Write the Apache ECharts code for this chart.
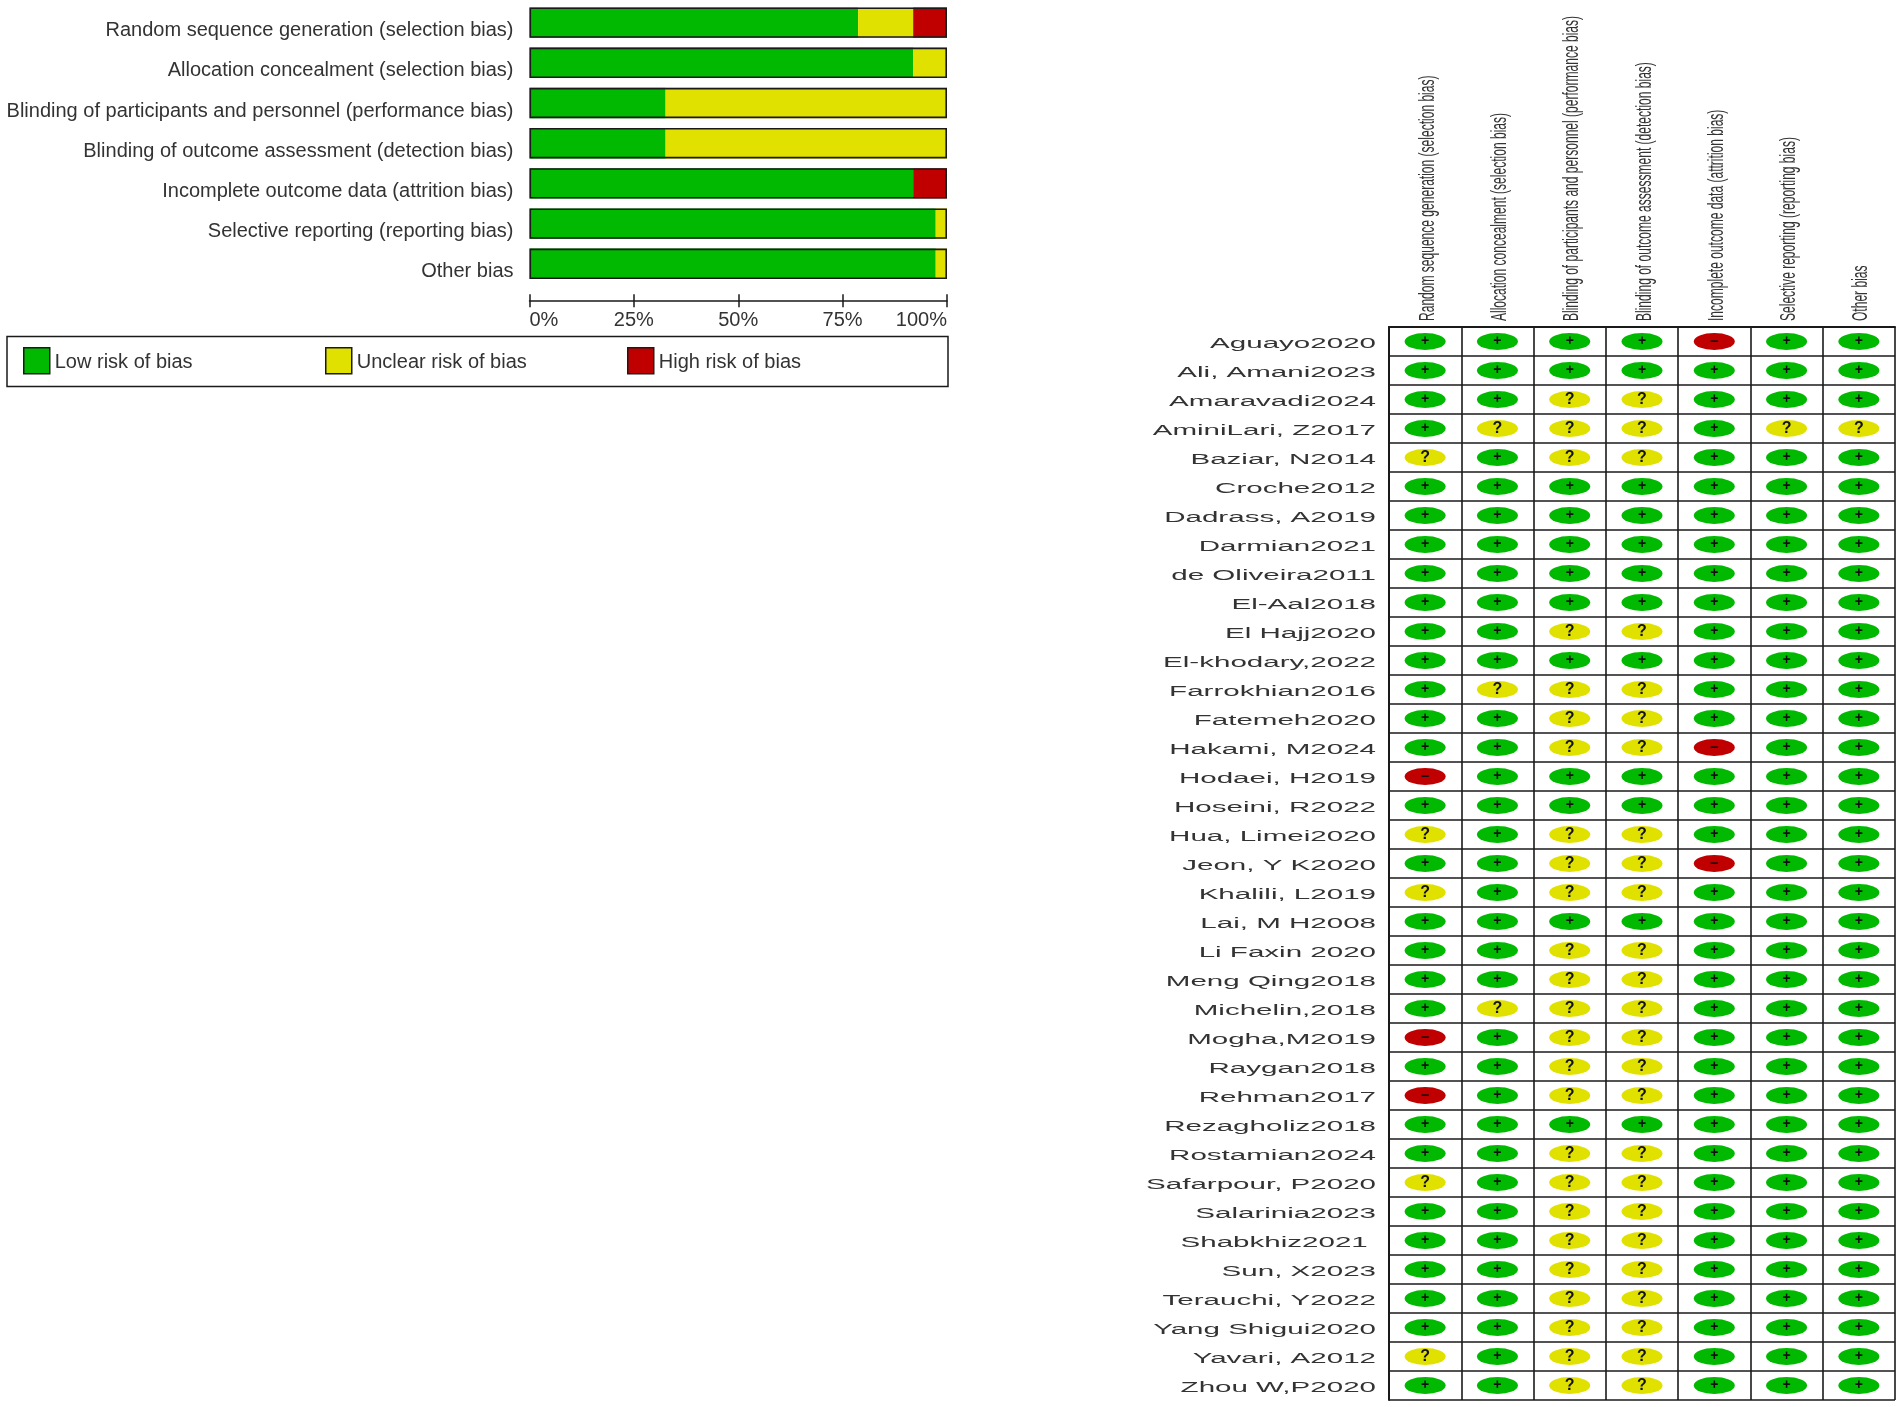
<!DOCTYPE html>
<html><head><meta charset="utf-8">
<style>html,body{margin:0;padding:0;background:#fff}#c{width:1902px;height:1407px}</style>
<script src="https://cdn.jsdelivr.net/npm/echarts@6/dist/echarts.min.js"></script>
</head><body><div id="c"></div>
<script>
const domains = [
  'Random sequence generation (selection bias)',
  'Allocation concealment (selection bias)',
  'Blinding of participants and personnel (performance bias)',
  'Blinding of outcome assessment (detection bias)',
  'Incomplete outcome data (attrition bias)',
  'Selective reporting (reporting bias)',
  'Other bias'
];
const lowPct     = [78.7, 91.9, 32.6, 32.6, 91.9, 97.3, 97.3];
const unclearPct = [13.2,  8.1, 67.4, 67.4,  0,    2.7,  2.7];
const highPct    = [ 8.1,  0,    0,    0,    8.1,  0,    0];
const fullBar    = [100, 100, 100, 100, 100, 100, 100];
const pctTicks   = ['0%', '25%', '50%', '75%', '100%'];
const studies = ['Aguayo2020','Ali, Amani2023','Amaravadi2024','AminiLari, Z2017','Baziar, N2014','Croche2012','Dadrass, A2019','Darmian2021','de Oliveira2011','El-Aal2018','El Hajj2020','El-khodary,2022','Farrokhian2016','Fatemeh2020','Hakami, M2024','Hodaei, H2019','Hoseini, R2022','Hua, Limei2020','Jeon, Y K2020','Khalili, L2019','Lai, M H2008','Li Faxin 2020','Meng Qing2018','Michelin,2018','Mogha,M2019','Raygan2018','Rehman2017','Rezagholiz2018','Rostamian2024','Safarpour, P2020','Salarinia2023','Shabkhiz2021 ','Sun, X2023','Terauchi, Y2022','Yang Shigui2020','Yavari, A2012','Zhou W,P2020'];
const judgements = ['++++-++','+++++++','++??+++','+???+??','?+??+++','+++++++','+++++++','+++++++','+++++++','+++++++','++??+++','+++++++','+???+++','++??+++','++??-++','-++++++','+++++++','?+??+++','++??-++','?+??+++','+++++++','++??+++','++??+++','+???+++','-+??+++','++??+++','-+??+++','+++++++','++??+++','?+??+++','++??+++','++??+++','++??+++','++??+++','++??+++','?+??+++','++??+++'];
const legendNames = ['Low risk of bias', 'Unclear risk of bias', 'High risk of bias'];

const GREEN = '#00B900', YELLOW = '#E1E100', RED = '#C00000', INK = '#333333', LINE = '#1a1a1a';
const FONT = '"Liberation Sans", Arial, sans-serif';

function marks(sym) {
  const out = [];
  judgements.forEach((r, row) => { [...r].forEach((c, col) => { if (c === sym) out.push([col, row]); }); });
  return out;
}
function markSeries(name, sym, shown, color, size) {
  return {
    name, type: 'scatter', xAxisIndex: 2, yAxisIndex: 1, data: marks(sym),
    symbol: 'circle', symbolSize: [41, 17], silent: true,
    itemStyle: { color, opacity: 1 },
    label: { show: true, position: 'inside', formatter: shown, color: '#111', fontFamily: FONT, fontWeight: 'bold', fontSize: size }
  };
}
function barSeries(name, data, color) {
  return { name, type: 'bar', stack: 'risk', xAxisIndex: 0, yAxisIndex: 0, data, barWidth: 30.4, itemStyle: { color } };
}
function legendAt(name, left) {
  return {
    left, top: 347, orient: 'horizontal', icon: 'rect', padding: 0, itemWidth: 26, itemHeight: 26,
    selectedMode: false,
    itemStyle: { borderColor: LINE, borderWidth: 1.5 },
    formatter: '{t|{name}}',
    textStyle: { fontFamily: FONT, fontSize: 20, color: INK,
      rich: { t: { fontFamily: FONT, fontSize: 20, color: INK, padding: [4, 0, 0, 0] } } },
    data: [name]
  };
}

const option = {
  backgroundColor: '#fff',
  animation: false,
  textStyle: { fontFamily: FONT },
  legend: [legendAt(legendNames[0], 23), legendAt(legendNames[1], 325), legendAt(legendNames[2], 627)],
  graphic: [{ type: 'rect', left: 4.5, top: 334, shape: { width: 941, height: 50 },
    style: { fill: 'none', stroke: LINE, lineWidth: 1.5 }, silent: true, z: -1 }],
  grid: [
    { left: 529.5, width: 417.5, top: 2.5, height: 281.4 },
    { left: 1389, width: 506, top: 327, height: 1073, show: false }
  ],
  xAxis: [
    { gridIndex: 0, type: 'value', min: 0, max: 100, interval: 25, position: 'bottom', offset: 16.8,
      splitLine: { show: false },
      axisLine: { show: true, lineStyle: { color: LINE, width: 1.5 } },
      axisTick: { show: true, length: 6.5, lineStyle: { color: LINE, width: 1.5 } },
      axisLabel: { show: true, margin: 10, fontSize: 20, color: INK, fontFamily: FONT, alignMinLabel: 'left', alignMaxLabel: 'right',
        formatter: v => pctTicks[v / 25] } },
    { gridIndex: 0, type: 'value', min: 0, max: 100, interval: 25, position: 'bottom', offset: 16.8,
      splitLine: { show: false },
      axisLine: { show: false },
      axisTick: { show: true, inside: true, length: 6.5, lineStyle: { color: LINE, width: 1.5 } },
      axisLabel: { show: false } },
    { gridIndex: 1, type: 'category', data: domains, position: 'top', boundaryGap: true,
      axisLine: { show: true, lineStyle: { color: LINE, width: 2 } },
      axisTick: { show: false }, axisLabel: { show: false },
      splitLine: { show: true, interval: 0, lineStyle: { color: LINE, width: 1.6 } } }
  ],
  yAxis: [
    { gridIndex: 0, type: 'category', data: domains, inverse: true,
      axisLine: { show: false }, axisTick: { show: false }, splitLine: { show: false },
      axisLabel: { show: true, margin: 16, fontSize: 20, lineHeight: 16, verticalAlign: 'top', color: INK, fontFamily: FONT, interval: 0 } },
    { gridIndex: 1, type: 'category', data: studies, inverse: true, boundaryGap: true,
      axisLine: { show: true, onZero: false, lineStyle: { color: LINE, width: 2 } },
      axisTick: { show: false }, axisLabel: { show: false },
      splitLine: { show: true, interval: 0, lineStyle: { color: LINE, width: 1.6 } } }
  ],
  series: [
    barSeries(legendNames[0], lowPct, GREEN),
    barSeries(legendNames[1], unclearPct, YELLOW),
    barSeries(legendNames[2], highPct, RED),
    { name: 'frame', type: 'bar', xAxisIndex: 0, yAxisIndex: 0, data: fullBar, barWidth: 30.4, barGap: '-100%', z: 5, silent: true,
      itemStyle: { color: 'rgba(0,0,0,0)', borderColor: LINE, borderWidth: 1.6 } },
    markSeries(legendNames[0], '+', '+', GREEN, 14),
    markSeries(legendNames[1], '?', '?', YELLOW, 16),
    markSeries(legendNames[2], '-', '−', RED, 15),
    { name: 'study labels', type: 'custom', xAxisIndex: 2, yAxisIndex: 1, silent: true, clip: false,
      data: studies.map((s, i) => [0, i]),
      renderItem(params, api) {
        const p = api.coord([0, api.value(1)]);
        const band = api.size([1, 1]);
        return { type: 'text', x: p[0] - band[0] / 2 - 13, y: p[1] + 2.5, scaleX: 2.11,
          style: { text: studies[params.dataIndex], align: 'right', verticalAlign: 'middle', fill: INK, fontSize: 14, fontFamily: FONT } };
      } },
    { name: 'domain labels', type: 'custom', xAxisIndex: 2, yAxisIndex: 1, silent: true, clip: false,
      data: domains.map((d, i) => [i, 0]),
      renderItem(params, api) {
        const p = api.coord([api.value(0), 0]);
        const band = api.size([1, 1]);
        return { type: 'text', x: p[0] + 2.5, y: p[1] - band[1] / 2 - 6, rotation: Math.PI / 2, scaleX: 0.547,
          style: { text: domains[params.dataIndex], align: 'left', verticalAlign: 'middle', fill: INK, fontSize: 22, fontFamily: FONT } };
      } }
  ]
};
const chart = echarts.init(document.getElementById('c'), null, { renderer: 'canvas' });
chart.setOption(option);
</script></body></html>
